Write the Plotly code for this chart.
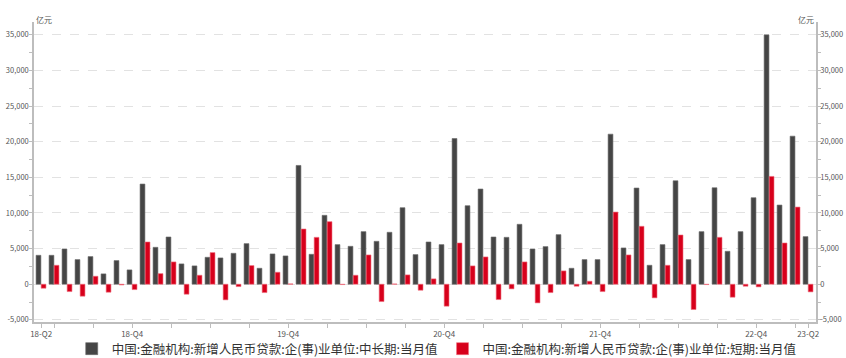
import plotly.graph_objects as go

# Monthly new RMB loans to enterprises (unit: 100 million yuan), 2018-05 .. 2023-04
months = [
    "2018-05", "2018-06", "2018-07", "2018-08", "2018-09", "2018-10", "2018-11", "2018-12",
    "2019-01", "2019-02", "2019-03", "2019-04", "2019-05", "2019-06", "2019-07", "2019-08",
    "2019-09", "2019-10", "2019-11", "2019-12",
    "2020-01", "2020-02", "2020-03", "2020-04", "2020-05", "2020-06", "2020-07", "2020-08",
    "2020-09", "2020-10", "2020-11", "2020-12",
    "2021-01", "2021-02", "2021-03", "2021-04", "2021-05", "2021-06", "2021-07", "2021-08",
    "2021-09", "2021-10", "2021-11", "2021-12",
    "2022-01", "2022-02", "2022-03", "2022-04", "2022-05", "2022-06", "2022-07", "2022-08",
    "2022-09", "2022-10", "2022-11", "2022-12",
    "2023-01", "2023-02", "2023-03", "2023-04",
]

long_term = [
    4060, 4060, 4950, 3460, 3880, 1450, 3320, 2010,
    14060, 5180, 6630, 2850, 2570, 3780, 3690, 4340, 5700, 2240, 4250, 3970,
    16670, 4200, 9670, 5560, 5320, 7380, 6020, 7290, 10740, 4160, 5930, 5560,
    20450, 11020, 13360, 6630, 6580, 8410, 4950, 5280, 6960, 2240, 3460, 3460,
    21060, 5090, 13500, 2660, 5560, 14520, 3460, 7380, 13540, 4620, 7380, 12140,
    35000, 11110, 20780, 6680,
]

short_term = [
    -560, 2660, -1030, -1680, 1120, -1120, -100, -750,
    5930, 1490, 3130, -1400, 1260, 4440, -2190, -330, 2620, -1170, 1680, 50,
    7750, 6580, 8780, -50, 1260, 4110, -2430, 40, 1310, -840, 750, -3080,
    5790, 2570, 3830, -2150, -650, 3130, -2620, -1170, 1870, -280, 420, -1030,
    10130, 4110, 8130, -1910, 2660, 6910, -3550, -50, 6580, -1820, -280, -370,
    15130, 5790, 10830, -1070,
]

series_names = [
    "中国:金融机构:新增人民币贷款:企(事)业单位:中长期:当月值",
    "中国:金融机构:新增人民币贷款:企(事)业单位:短期:当月值",
]

# x-axis labels (month -> quarter label)
label_months = ["2018-05", "2018-12", "2019-12", "2020-12", "2021-12", "2022-12", "2023-04"]
label_text = ["18-Q2", "18-Q4", "19-Q4", "20-Q4", "21-Q4", "22-Q4", "23-Q2"]

# y-axis ticks
y_tickvals = [-5000, 0, 5000, 10000, 15000, 20000, 25000, 30000, 35000]
y_ticktext = ["-5,000", "0", "5,000", "10,000", "15,000", "20,000", "25,000", "30,000", "35,000"]

x = list(range(len(months)))
label_pos = [months.index(m) for m in label_months]
quarter_end = [i for i, m in enumerate(months) if m[5:] in ("03", "06", "09", "12")]
minor_pos = [i for i in quarter_end if i not in label_pos]

DARK = "#454545"
RED = "#d7001b"
AXIS = "#bdbdbd"
TXT = "#555555"
FONT = "Noto Sans CJK SC"
YRANGE = [-5300, 36800]

fig = go.Figure()
fig.add_trace(go.Bar(
    x=x, y=long_term, name=series_names[0],
    marker=dict(color=DARK, line=dict(color="#6a6a6a", width=0.6)),
    width=0.37, offset=-0.39,
))
fig.add_trace(go.Bar(
    x=x, y=short_term, name=series_names[1],
    marker=dict(color=RED, line=dict(color="#f07080", width=0.6)),
    width=0.37, offset=0.0,
))
# invisible trace that carries the mirrored right-hand axis
fig.add_trace(go.Scatter(
    x=[x[0]], y=[0], yaxis="y2", mode="markers",
    marker=dict(opacity=0), showlegend=False, hoverinfo="skip",
))


def y_axis(**extra):
    return dict(
        range=YRANGE,
        tickvals=y_tickvals, ticktext=y_ticktext,
        tickfont=dict(family=FONT, size=7.5, color=TXT),
        showline=True, linecolor=AXIS, linewidth=1.5,
        ticks="outside", ticklen=3, tickcolor=AXIS, tickwidth=1,
        minor=dict(tickvals=[v + 2500 for v in y_tickvals[:-1]],
                   ticks="outside", ticklen=3, tickcolor=AXIS, showgrid=False),
        zeroline=False,
        **extra,
    )


fig.update_layout(
    width=846, height=358,
    margin=dict(l=34, r=30, t=22, b=36, autoexpand=False),
    paper_bgcolor="white", plot_bgcolor="white",
    barmode="overlay",
    font=dict(family=FONT, color=TXT),
    xaxis=dict(
        range=[-0.55, 59.6],
        tickvals=label_pos, ticktext=label_text,
        tickfont=dict(family=FONT, size=8, color=TXT),
        showline=True, linecolor=AXIS, linewidth=1.5,
        ticks="outside", ticklen=4, tickcolor=AXIS,
        minor=dict(tickvals=minor_pos, ticks="outside", ticklen=4, tickcolor=AXIS, showgrid=False),
        showgrid=False, zeroline=False,
    ),
    yaxis=y_axis(showgrid=True, gridcolor="#e2e2e2", griddash="dash", gridwidth=1,
                 ticklabelstandoff=-1),
    yaxis2=y_axis(overlaying="y", side="right", showgrid=False, ticklabelstandoff=-2),
    legend=dict(
        orientation="h", x=0.515, xanchor="center", y=-0.09, yanchor="middle",
        bgcolor="rgba(0,0,0,0)",
        font=dict(family=FONT, size=12.5, color="#333333"),
        itemwidth=30, tracegroupgap=0,
    ),
    annotations=[
        dict(text="亿元", x=0, xref="paper", y=1.0, yref="paper", yshift=10,
             showarrow=False, font=dict(family=FONT, size=8, color=TXT)),
        dict(text="亿元", x=1, xref="paper", y=1.0, yref="paper", yshift=10,
             showarrow=False, font=dict(family=FONT, size=8, color=TXT)),
    ],
)

fig.write_html("out.html")
